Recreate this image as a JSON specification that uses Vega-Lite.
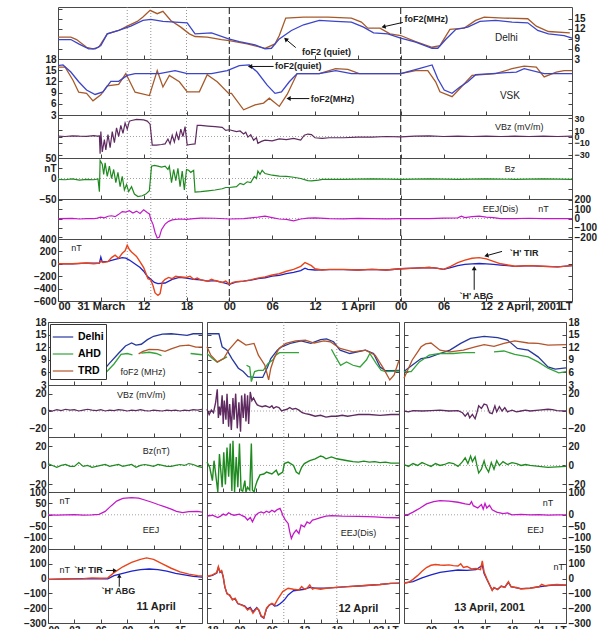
{
  "$schema": "https://vega.github.io/schema/vega-lite/v6.json",
  "padding": {"left": 12, "top": 5, "right": 4, "bottom": 2},
  "background": "white",
  "config": {
    "view": {"stroke": "#4a4a4a", "strokeWidth": 1},
    "axis": {"domain": false, "grid": false, "tickSize": -4, "tickColor": "#444", "labelPadding": 6, "labelFont": "Liberation Sans", "labelFontWeight": "bold", "labelFontSize": 10, "labelColor": "#222", "labelOverlap": false},
    "text": {"font": "Liberation Sans", "color": "#222"},
    "line": {"strokeWidth": 1.2}
  },
  "datasets": {
    "d_obs": [{"t":0,"v":9.5},{"t":1.8,"v":9.5},{"t":2.6,"v":8.8},{"t":4.0,"v":6.5},{"t":4.9,"v":6.0},{"t":5.7,"v":6.5},{"t":6.9,"v":10.5},{"t":8.5,"v":11.5},{"t":9.7,"v":12.8},{"t":11.1,"v":14.2},{"t":11.9,"v":15.5},{"t":12.9,"v":17.5},{"t":13.9,"v":16.5},{"t":14.7,"v":17.2},{"t":15.8,"v":14.5},{"t":17.2,"v":12.5},{"t":18.4,"v":10.5},{"t":19.2,"v":9.7},{"t":20.9,"v":9.5},{"t":22.9,"v":8.8},{"t":24,"v":8.5},{"t":26.5,"v":7.5},{"t":29,"v":6.2},{"t":30.4,"v":7.5},{"t":31,"v":10},{"t":31.9,"v":15.2},{"t":34.4,"v":15.5},{"t":37.8,"v":15.5},{"t":41.1,"v":15.2},{"t":42.5,"v":14},{"t":43.4,"v":12.2},{"t":45.1,"v":12.2},{"t":46.5,"v":10.5},{"t":48,"v":10},{"t":50.1,"v":8.2},{"t":52.4,"v":6.5},{"t":53.5,"v":7},{"t":54.9,"v":11.8},{"t":56.9,"v":12.2},{"t":58.5,"v":14.5},{"t":59.7,"v":15.5},{"t":62.5,"v":15.2},{"t":65.8,"v":15},{"t":67,"v":12.8},{"t":68.7,"v":11.2},{"t":71.7,"v":10.8}],
    "d_qt": [{"t":0,"v":8.8},{"t":1.8,"v":8.8},{"t":2.9,"v":7.5},{"t":4.3,"v":6.0},{"t":5.2,"v":6.0},{"t":6.0,"v":7.0},{"t":6.9,"v":10.5},{"t":8.5,"v":11.5},{"t":10.2,"v":12.8},{"t":11.9,"v":14.5},{"t":13.0,"v":14.8},{"t":14.7,"v":14.2},{"t":16.4,"v":14.0},{"t":18.1,"v":13.8},{"t":19.2,"v":10.5},{"t":21.5,"v":10.8},{"t":23.9,"v":9.0},{"t":25.4,"v":8.2},{"t":27.6,"v":7.2},{"t":29.0,"v":6.0},{"t":29.9,"v":6.2},{"t":31.0,"v":9.0},{"t":32.7,"v":11.5},{"t":34.4,"v":13.2},{"t":36.6,"v":14.5},{"t":38.9,"v":14.2},{"t":41.1,"v":14.0},{"t":42.8,"v":12.5},{"t":44.2,"v":10.8},{"t":46.2,"v":10.5},{"t":48,"v":9.2},{"t":50.1,"v":8.0},{"t":52.4,"v":6.2},{"t":53.2,"v":6.2},{"t":54.3,"v":8.8},{"t":55.7,"v":11.8},{"t":57.4,"v":12.5},{"t":59.1,"v":14.2},{"t":61.3,"v":14.5},{"t":63.6,"v":14.0},{"t":65.8,"v":13.8},{"t":67.2,"v":11.5},{"t":68.7,"v":10.5},{"t":70.9,"v":10.0},{"t":72,"v":9.2}],
    "v_obs": [{"t":0,"v":15.8},{"t":1.0,"v":15.8},{"t":2.1,"v":12.3},{"t":2.9,"v":9.1},{"t":4.0,"v":8.8},{"t":4.9,"v":6.8},{"t":6.0,"v":8.4},{"t":6.9,"v":10.8},{"t":8.5,"v":11.2},{"t":9.5,"v":14.1},{"t":10.8,"v":9.1},{"t":12.8,"v":8.2},{"t":13.9,"v":14.9},{"t":14.7,"v":10.5},{"t":15.6,"v":13.6},{"t":17.0,"v":11.9},{"t":18.1,"v":9.2},{"t":19.8,"v":9.2},{"t":20.9,"v":13.8},{"t":22.3,"v":11.9},{"t":23.9,"v":8.8},{"t":24.3,"v":8.8},{"t":26.0,"v":4.4},{"t":27.6,"v":5.7},{"t":28.8,"v":6.2},{"t":29.6,"v":7.5},{"t":31.0,"v":5.3},{"t":32.1,"v":8.5},{"t":33.5,"v":14.1},{"t":36.6,"v":14.1},{"t":38.9,"v":15.4},{"t":40.6,"v":15.2},{"t":42.2,"v":14.1},{"t":48,"v":14.1},{"t":50.1,"v":14.9},{"t":51.8,"v":14.9},{"t":52.9,"v":11.9},{"t":53.5,"v":9.2},{"t":55.2,"v":7.9},{"t":56.3,"v":10.1},{"t":58.0,"v":13.6},{"t":61.3,"v":14.1},{"t":63.6,"v":15.4},{"t":65.3,"v":16.1},{"t":67.0,"v":15.8},{"t":68.1,"v":13.2},{"t":69.8,"v":14.5},{"t":70.9,"v":14.9},{"t":72,"v":14.9}],
    "v_qt": [{"t":0,"v":16.2},{"t":0.7,"v":16.4},{"t":1.8,"v":14.5},{"t":2.9,"v":11.9},{"t":4.0,"v":9.7},{"t":5.2,"v":8.5},{"t":6.3,"v":9.2},{"t":7.4,"v":12.0},{"t":8.5,"v":12.0},{"t":9.7,"v":13.6},{"t":10.8,"v":14.1},{"t":14.2,"v":14.1},{"t":16.4,"v":14.9},{"t":18.1,"v":14.1},{"t":21.5,"v":14.1},{"t":23.7,"v":14.9},{"t":25.4,"v":16.2},{"t":26.8,"v":16.4},{"t":27.9,"v":14.5},{"t":29.3,"v":11.0},{"t":30.4,"v":8.8},{"t":31.3,"v":9.2},{"t":32.4,"v":11.9},{"t":33.5,"v":14.1},{"t":36.6,"v":14.1},{"t":38.9,"v":14.9},{"t":41.1,"v":14.1},{"t":48,"v":14.1},{"t":50.7,"v":15.5},{"t":52.4,"v":16.4},{"t":53.2,"v":12.7},{"t":54.1,"v":9.7},{"t":55.2,"v":8.8},{"t":56.3,"v":10.5},{"t":57.4,"v":11.9},{"t":58.5,"v":13.8},{"t":60.8,"v":14.1},{"t":64.2,"v":14.5},{"t":65.3,"v":15.4},{"t":68.1,"v":14.1},{"t":72,"v":14.1}],
    "t_vbz": [{"t":0,"v":0.5},{"t":1,"v":0},{"t":2,"v":1},{"t":3,"v":0.5},{"t":4,"v":0.3},{"t":5,"v":1.5},{"t":5.5,"v":0.5},{"t":5.8,"v":1},{"t":5.9,"v":-28},{"t":6.0,"v":8},{"t":6.2,"v":-25},{"t":6.5,"v":-5},{"t":6.7,"v":-22},{"t":7.0,"v":3},{"t":7.3,"v":-18},{"t":7.6,"v":8},{"t":7.9,"v":-10},{"t":8.2,"v":14},{"t":8.5,"v":0},{"t":8.8,"v":18},{"t":9.1,"v":5},{"t":9.4,"v":22},{"t":9.7,"v":12},{"t":10.0,"v":25},{"t":10.3,"v":26},{"t":11.0,"v":28},{"t":12.0,"v":27},{"t":12.5,"v":25},{"t":12.9,"v":20},{"t":13.2,"v":-14},{"t":13.8,"v":-14},{"t":14.5,"v":-13},{"t":15.0,"v":-12},{"t":15.4,"v":-4},{"t":15.7,"v":-12},{"t":16.0,"v":2},{"t":16.3,"v":-9},{"t":16.6,"v":6},{"t":16.9,"v":-6},{"t":17.2,"v":12},{"t":17.5,"v":0},{"t":17.8,"v":16},{"t":18.1,"v":-14},{"t":18.5,"v":-13},{"t":19.2,"v":-12},{"t":19.5,"v":18},{"t":20,"v":18},{"t":21,"v":17},{"t":22,"v":16},{"t":23,"v":15},{"t":23.5,"v":10},{"t":24,"v":11},{"t":25,"v":8},{"t":25.5,"v":9},{"t":26,"v":4},{"t":26.3,"v":7},{"t":26.6,"v":-1},{"t":27.0,"v":3},{"t":27.4,"v":-6},{"t":27.8,"v":-2},{"t":28.0,"v":-11},{"t":28.5,"v":-8},{"t":29,"v":-6},{"t":30,"v":-7},{"t":31,"v":-4},{"t":32,"v":-5},{"t":33,"v":-3},{"t":34,"v":-6},{"t":34.5,"v":2},{"t":35,"v":4},{"t":35.5,"v":3},{"t":36,"v":-2},{"t":37,"v":-3},{"t":38,"v":-2},{"t":40,"v":-2},{"t":42,"v":-1},{"t":44,"v":-1},{"t":46,"v":0},{"t":48,"v":-0.5},{"t":50,"v":0.5},{"t":52,"v":1},{"t":54,"v":0},{"t":56,"v":0.5},{"t":58,"v":0},{"t":60,"v":0.5},{"t":62,"v":0},{"t":64,"v":0.5},{"t":66,"v":0},{"t":68,"v":0.5},{"t":70,"v":0},{"t":72,"v":0.5}],
    "t_bz": [{"t":0,"v":-2},{"t":1,"v":-3},{"t":2,"v":-1},{"t":3,"v":-4},{"t":4,"v":-2},{"t":5,"v":-3},{"t":5.6,"v":-1},{"t":5.8,"v":-32},{"t":5.9,"v":44},{"t":6.2,"v":35},{"t":6.4,"v":10},{"t":6.6,"v":38},{"t":6.9,"v":5},{"t":7.2,"v":30},{"t":7.5,"v":0},{"t":7.8,"v":22},{"t":8.1,"v":-10},{"t":8.4,"v":15},{"t":8.7,"v":-20},{"t":9.0,"v":5},{"t":9.3,"v":-28},{"t":9.6,"v":-15},{"t":9.9,"v":-32},{"t":10.3,"v":-20},{"t":10.7,"v":-38},{"t":11.2,"v":-44},{"t":11.8,"v":-42},{"t":12.3,"v":-38},{"t":12.8,"v":-30},{"t":13.1,"v":30},{"t":13.5,"v":32},{"t":14,"v":30},{"t":14.5,"v":28},{"t":15,"v":30},{"t":15.4,"v":22},{"t":15.6,"v":30},{"t":15.9,"v":-10},{"t":16.2,"v":22},{"t":16.5,"v":-5},{"t":16.8,"v":25},{"t":17.1,"v":-20},{"t":17.4,"v":18},{"t":17.7,"v":-28},{"t":18.0,"v":22},{"t":18.3,"v":20},{"t":18.6,"v":15},{"t":19.0,"v":20},{"t":19.2,"v":-33},{"t":20,"v":-32},{"t":21,"v":-30},{"t":22,"v":-28},{"t":23,"v":-25},{"t":23.5,"v":-22},{"t":24,"v":-22},{"t":25,"v":-20},{"t":25.5,"v":-12},{"t":26,"v":-15},{"t":26.5,"v":-8},{"t":27,"v":-10},{"t":27.5,"v":5},{"t":27.8,"v":0},{"t":28,"v":18},{"t":28.3,"v":10},{"t":28.6,"v":20},{"t":29,"v":12},{"t":30,"v":8},{"t":31,"v":6},{"t":32,"v":5},{"t":33,"v":3},{"t":34,"v":0},{"t":35,"v":-5},{"t":35.5,"v":-6},{"t":36.5,"v":-4},{"t":37,"v":-2},{"t":40,"v":-2},{"t":44,"v":-1},{"t":48,"v":-2},{"t":52,"v":-1},{"t":56,"v":-2},{"t":60,"v":-1},{"t":64,"v":-2},{"t":68,"v":-1},{"t":72,"v":-2}],
    "t_eej": [{"t":0,"v":0},{"t":2,"v":2},{"t":3,"v":-5},{"t":4,"v":0},{"t":5,"v":-2},{"t":5.5,"v":5},{"t":6,"v":15},{"t":6.5,"v":8},{"t":7,"v":25},{"t":7.5,"v":30},{"t":8,"v":20},{"t":8.5,"v":45},{"t":9,"v":75},{"t":9.5,"v":70},{"t":10,"v":85},{"t":10.5,"v":60},{"t":11,"v":80},{"t":11.5,"v":55},{"t":12,"v":95},{"t":12.5,"v":65},{"t":12.8,"v":50},{"t":13,"v":-10},{"t":13.3,"v":-60},{"t":13.6,"v":-150},{"t":13.9,"v":-210},{"t":14.2,"v":-200},{"t":14.5,"v":-120},{"t":15,"v":-60},{"t":15.5,"v":-30},{"t":16,"v":-15},{"t":17,"v":-5},{"t":18,"v":-8},{"t":19,"v":0},{"t":20,"v":5},{"t":22,"v":3},{"t":24,"v":-5},{"t":26,"v":0},{"t":28,"v":15},{"t":29,"v":25},{"t":30,"v":10},{"t":31,"v":-5},{"t":32,"v":-10},{"t":33,"v":-25},{"t":34,"v":-5},{"t":35,"v":5},{"t":36,"v":8},{"t":38,"v":0},{"t":40,"v":-3},{"t":42,"v":2},{"t":44,"v":0},{"t":46,"v":-3},{"t":48,"v":0},{"t":50,"v":-2},{"t":52,"v":0},{"t":54,"v":4},{"t":56,"v":8},{"t":56.5,"v":25},{"t":57,"v":10},{"t":58,"v":20},{"t":59,"v":25},{"t":60,"v":15},{"t":61,"v":10},{"t":62,"v":0},{"t":64,"v":-2},{"t":66,"v":3},{"t":68,"v":0},{"t":70,"v":-2},{"t":72,"v":0}],
    "t_tir": [{"t":0,"v":0},{"t":2,"v":2},{"t":4,"v":12},{"t":5,"v":2},{"t":5.8,"v":10},{"t":6,"v":45},{"t":6.3,"v":20},{"t":7,"v":35},{"t":7.5,"v":100},{"t":8,"v":140},{"t":8.5,"v":90},{"t":9,"v":170},{"t":9.4,"v":210},{"t":9.7,"v":300},{"t":10,"v":230},{"t":10.3,"v":190},{"t":10.7,"v":150},{"t":11,"v":120},{"t":11.5,"v":30},{"t":12,"v":-60},{"t":12.3,"v":-150},{"t":12.6,"v":-240},{"t":13,"v":-260},{"t":13.3,"v":-350},{"t":13.6,"v":-470},{"t":14,"v":-510},{"t":14.3,"v":-480},{"t":14.6,"v":-300},{"t":15,"v":-250},{"t":15.5,"v":-220},{"t":16,"v":-240},{"t":16.5,"v":-200},{"t":17,"v":-210},{"t":18,"v":-220},{"t":18.5,"v":-200},{"t":19,"v":-250},{"t":19.5,"v":-230},{"t":20,"v":-260},{"t":21,"v":-280},{"t":21.5,"v":-250},{"t":22,"v":-270},{"t":23,"v":-300},{"t":23.5,"v":-280},{"t":24,"v":-330},{"t":24.5,"v":-300},{"t":25,"v":-290},{"t":26,"v":-280},{"t":27,"v":-260},{"t":28,"v":-230},{"t":29,"v":-210},{"t":30,"v":-180},{"t":31,"v":-160},{"t":32,"v":-120},{"t":33,"v":-90},{"t":34,"v":-40},{"t":34.6,"v":20},{"t":35,"v":0},{"t":35.5,"v":-30},{"t":36,"v":-80},{"t":37,"v":-100},{"t":38,"v":-90},{"t":40,"v":-90},{"t":42,"v":-100},{"t":44,"v":-90},{"t":46,"v":-100},{"t":48,"v":-80},{"t":50,"v":-70},{"t":52,"v":-60},{"t":53,"v":-70},{"t":54,"v":-90},{"t":55,"v":-40},{"t":56,"v":20},{"t":57,"v":60},{"t":58,"v":90},{"t":59,"v":100},{"t":60,"v":80},{"t":61,"v":40},{"t":62,"v":0},{"t":63,"v":-20},{"t":64,"v":-40},{"t":66,"v":-30},{"t":68,"v":-40},{"t":70,"v":-50},{"t":72,"v":-30}],
    "t_abg": [{"t":0,"v":0},{"t":2,"v":0},{"t":4,"v":10},{"t":5.8,"v":10},{"t":6,"v":110},{"t":6.2,"v":30},{"t":7,"v":40},{"t":8,"v":70},{"t":9,"v":100},{"t":9.5,"v":90},{"t":10,"v":60},{"t":10.5,"v":20},{"t":11,"v":-20},{"t":11.5,"v":-60},{"t":12,"v":-120},{"t":12.5,"v":-200},{"t":13,"v":-250},{"t":13.5,"v":-300},{"t":14,"v":-320},{"t":15,"v":-310},{"t":16,"v":-250},{"t":17,"v":-220},{"t":18,"v":-230},{"t":19,"v":-250},{"t":20,"v":-260},{"t":21,"v":-280},{"t":22,"v":-270},{"t":23,"v":-300},{"t":24,"v":-330},{"t":25,"v":-290},{"t":26,"v":-280},{"t":27,"v":-265},{"t":28,"v":-240},{"t":29,"v":-225},{"t":30,"v":-200},{"t":31,"v":-185},{"t":32,"v":-160},{"t":33,"v":-140},{"t":34,"v":-110},{"t":34.6,"v":-70},{"t":35,"v":-90},{"t":36,"v":-100},{"t":38,"v":-95},{"t":40,"v":-95},{"t":42,"v":-100},{"t":44,"v":-90},{"t":46,"v":-100},{"t":48,"v":-80},{"t":50,"v":-70},{"t":52,"v":-60},{"t":53,"v":-70},{"t":54,"v":-90},{"t":55,"v":-60},{"t":56,"v":-30},{"t":57,"v":-10},{"t":58,"v":0},{"t":59,"v":5},{"t":60,"v":0},{"t":61,"v":-10},{"t":62,"v":-20},{"t":63,"v":-30},{"t":64,"v":-40},{"t":66,"v":-30},{"t":68,"v":-40},{"t":70,"v":-50},{"t":72,"v":-30}],
    "bL_f": [{"t":0.5,"v":7.3,"s":"Delhi","g":"D"},{"t":1.5,"v":7.6,"s":"Delhi","g":"D"},{"t":2.2,"v":8.2,"s":"Delhi","g":"D"},{"t":2.8,"v":7.6,"s":"Delhi","g":"D"},{"t":4,"v":6.8,"s":"Delhi","g":"D"},{"t":5,"v":6.2,"s":"Delhi","g":"D"},{"t":5.8,"v":5.8,"s":"Delhi","g":"D"},{"t":6.3,"v":6.5,"s":"Delhi","g":"D"},{"t":7,"v":8.2,"s":"Delhi","g":"D"},{"t":8,"v":10.5,"s":"Delhi","g":"D"},{"t":8.8,"v":12.3,"s":"Delhi","g":"D"},{"t":9.5,"v":13,"s":"Delhi","g":"D"},{"t":10,"v":12.5,"s":"Delhi","g":"D"},{"t":10.6,"v":12.7,"s":"Delhi","g":"D"},{"t":11.3,"v":13.8,"s":"Delhi","g":"D"},{"t":12,"v":14.6,"s":"Delhi","g":"D"},{"t":13,"v":15.1,"s":"Delhi","g":"D"},{"t":14,"v":15.2,"s":"Delhi","g":"D"},{"t":15,"v":15,"s":"Delhi","g":"D"},{"t":15.8,"v":14.8,"s":"Delhi","g":"D"},{"t":16.5,"v":15.2,"s":"Delhi","g":"D"},{"t":17.5,"v":15.2,"s":"Delhi","g":"D"},
      {"t":0.5,"v":7.2,"s":"AHD","g":"A1"},{"t":1.5,"v":7.2,"s":"AHD","g":"A1"},{"t":2.6,"v":7.5,"s":"AHD","g":"A1"},{"t":3.5,"v":6.6,"s":"AHD","g":"A1"},{"t":4.5,"v":6.1,"s":"AHD","g":"A1"},{"t":5.5,"v":5.6,"s":"AHD","g":"A1"},{"t":6.1,"v":5.2,"s":"AHD","g":"A1"},{"t":6.7,"v":6.2,"s":"AHD","g":"A1"},{"t":7.5,"v":8,"s":"AHD","g":"A1"},{"t":8.3,"v":10.3,"s":"AHD","g":"A1"},{"t":9,"v":10.5,"s":"AHD","g":"A1"},{"t":9.6,"v":10.2,"s":"AHD","g":"A1"},
      {"t":10.6,"v":10.6,"s":"AHD","g":"A2"},{"t":11.5,"v":10.8,"s":"AHD","g":"A2"},{"t":12.3,"v":10.5,"s":"AHD","g":"A2"},{"t":12.9,"v":10,"s":"AHD","g":"A2"},
      {"t":16.2,"v":10.5,"s":"AHD","g":"A3"},{"t":17.5,"v":10.2,"s":"AHD","g":"A3"},
      {"t":10.3,"v":10.4,"s":"TRD","g":"T"},{"t":10.8,"v":11,"s":"TRD","g":"T"},{"t":11.5,"v":11.5,"s":"TRD","g":"T"},{"t":12.5,"v":11.4,"s":"TRD","g":"T"},{"t":13.3,"v":11,"s":"TRD","g":"T"},{"t":14,"v":11.6,"s":"TRD","g":"T"},{"t":15,"v":12.3,"s":"TRD","g":"T"},{"t":16,"v":12.5,"s":"TRD","g":"T"},{"t":16.8,"v":12,"s":"TRD","g":"T"},{"t":17.5,"v":12,"s":"TRD","g":"T"}],
    "bM_f": [{"t":0,"v":15.2,"s":"Delhi","g":"D"},{"t":2.2,"v":15.2,"s":"Delhi","g":"D"},{"t":2.8,"v":12.1,"s":"Delhi","g":"D"},{"t":3.7,"v":11.3,"s":"Delhi","g":"D"},{"t":4.6,"v":9.3,"s":"Delhi","g":"D"},{"t":5.8,"v":7,"s":"Delhi","g":"D"},{"t":6.7,"v":6.2,"s":"Delhi","g":"D"},{"t":7.6,"v":5,"s":"Delhi","g":"D"},{"t":8.8,"v":4.8,"s":"Delhi","g":"D"},{"t":10.3,"v":4.8,"s":"Delhi","g":"D"},{"t":11.2,"v":7.3,"s":"Delhi","g":"D"},{"t":11.8,"v":9.3,"s":"Delhi","g":"D"},{"t":13,"v":11.3,"s":"Delhi","g":"D"},{"t":13.8,"v":12.1,"s":"Delhi","g":"D"},{"t":15.6,"v":13,"s":"Delhi","g":"D"},{"t":17.4,"v":13.5,"s":"Delhi","g":"D"},{"t":19.2,"v":12.9,"s":"Delhi","g":"D"},{"t":21,"v":13.8,"s":"Delhi","g":"D"},{"t":22.1,"v":14,"s":"Delhi","g":"D"},{"t":23.4,"v":13.3,"s":"Delhi","g":"D"},{"t":24.6,"v":11.3,"s":"Delhi","g":"D"},{"t":26.4,"v":10.5,"s":"Delhi","g":"D"},{"t":29.3,"v":11.3,"s":"Delhi","g":"D"},{"t":30.8,"v":10.5,"s":"Delhi","g":"D"},{"t":32,"v":7.3,"s":"Delhi","g":"D"},{"t":32.9,"v":6.5,"s":"Delhi","g":"D"},{"t":34.1,"v":6.4,"s":"Delhi","g":"D"},{"t":35.5,"v":6.5,"s":"Delhi","g":"D"},
      {"t":0,"v":10.5,"s":"AHD","g":"A1"},{"t":1,"v":9.3,"s":"AHD","g":"A1"},{"t":1.9,"v":8.4,"s":"AHD","g":"A1"},{"t":2.8,"v":9.1,"s":"AHD","g":"A1"},{"t":3.7,"v":9.7,"s":"AHD","g":"A1"},
      {"t":7.3,"v":7.7,"s":"AHD","g":"A2"},{"t":7.9,"v":7.3,"s":"AHD","g":"A2"},{"t":8.2,"v":3.8,"s":"AHD","g":"A2"},{"t":8.8,"v":6.2,"s":"AHD","g":"A2"},{"t":9.5,"v":6.5,"s":"AHD","g":"A2"},{"t":10.4,"v":6.5,"s":"AHD","g":"A2"},{"t":11.3,"v":8.1,"s":"AHD","g":"A2"},{"t":12.2,"v":9,"s":"AHD","g":"A2"},{"t":12.7,"v":10.1,"s":"AHD","g":"A2"},{"t":13.4,"v":10.7,"s":"AHD","g":"A2"},{"t":15,"v":10.7,"s":"AHD","g":"A2"},{"t":17,"v":10.7,"s":"AHD","g":"A2"},
      {"t":23,"v":11.5,"s":"AHD","g":"A3"},{"t":23.6,"v":10.1,"s":"AHD","g":"A3"},{"t":24.7,"v":7.7,"s":"AHD","g":"A3"},{"t":25.8,"v":8.5,"s":"AHD","g":"A3"},{"t":27,"v":7.7,"s":"AHD","g":"A3"},{"t":28.3,"v":7.3,"s":"AHD","g":"A3"},{"t":29.5,"v":9,"s":"AHD","g":"A3"},{"t":30.1,"v":10.5,"s":"AHD","g":"A3"},{"t":31.3,"v":8.1,"s":"AHD","g":"A3"},{"t":32.2,"v":6.5,"s":"AHD","g":"A3"},{"t":33,"v":6.2,"s":"AHD","g":"A3"},{"t":35.5,"v":6.3,"s":"AHD","g":"A3"},
      {"t":0,"v":12.1,"s":"TRD","g":"T"},{"t":0.7,"v":10.1,"s":"TRD","g":"T"},{"t":1.9,"v":8.5,"s":"TRD","g":"T"},{"t":3.1,"v":9.3,"s":"TRD","g":"T"},{"t":4,"v":11.3,"s":"TRD","g":"T"},{"t":5.7,"v":13.8,"s":"TRD","g":"T"},{"t":7.2,"v":12.5,"s":"TRD","g":"T"},{"t":8.7,"v":12.9,"s":"TRD","g":"T"},{"t":9.5,"v":10.1,"s":"TRD","g":"T"},{"t":10.7,"v":7.7,"s":"TRD","g":"T"},{"t":11.4,"v":4.2,"s":"TRD","g":"T"},{"t":11.8,"v":7,"s":"TRD","g":"T"},{"t":12.4,"v":9.3,"s":"TRD","g":"T"},{"t":13.3,"v":11.7,"s":"TRD","g":"T"},{"t":14.6,"v":12.9,"s":"TRD","g":"T"},{"t":16.4,"v":13.5,"s":"TRD","g":"T"},{"t":18.2,"v":13.7,"s":"TRD","g":"T"},{"t":19.8,"v":13,"s":"TRD","g":"T"},{"t":21.6,"v":13.5,"s":"TRD","g":"T"},{"t":22.8,"v":13.3,"s":"TRD","g":"T"},{"t":24.6,"v":11.7,"s":"TRD","g":"T"},{"t":27,"v":10.9,"s":"TRD","g":"T"},{"t":29.3,"v":11.3,"s":"TRD","g":"T"},{"t":31.1,"v":10.1,"s":"TRD","g":"T"},{"t":32.6,"v":7,"s":"TRD","g":"T"},{"t":33.8,"v":4.2,"s":"TRD","g":"T"},{"t":34.6,"v":5.4,"s":"TRD","g":"T"},{"t":35.5,"v":8.9,"s":"TRD","g":"T"}],
    "bR_f": [{"t":6,"v":6.2,"s":"Delhi","g":"D"},{"t":6.9,"v":7.7,"s":"Delhi","g":"D"},{"t":7.9,"v":9.3,"s":"Delhi","g":"D"},{"t":8.8,"v":9.6,"s":"Delhi","g":"D"},{"t":10,"v":10.5,"s":"Delhi","g":"D"},{"t":11.1,"v":11.3,"s":"Delhi","g":"D"},{"t":12.3,"v":12.9,"s":"Delhi","g":"D"},{"t":13.4,"v":14.1,"s":"Delhi","g":"D"},{"t":14.9,"v":14.6,"s":"Delhi","g":"D"},{"t":16.4,"v":14.3,"s":"Delhi","g":"D"},{"t":17.5,"v":13.7,"s":"Delhi","g":"D"},{"t":18.6,"v":11.7,"s":"Delhi","g":"D"},{"t":19.8,"v":11.3,"s":"Delhi","g":"D"},{"t":20.9,"v":9.7,"s":"Delhi","g":"D"},{"t":22,"v":7.3,"s":"Delhi","g":"D"},{"t":22.8,"v":6.8,"s":"Delhi","g":"D"},{"t":24,"v":7.1,"s":"Delhi","g":"D"},
      {"t":6,"v":6.2,"s":"AHD","g":"A1"},{"t":6.8,"v":6.2,"s":"AHD","g":"A1"},{"t":7.7,"v":8.5,"s":"AHD","g":"A1"},{"t":8.8,"v":10.1,"s":"AHD","g":"A1"},{"t":10,"v":10.5,"s":"AHD","g":"A1"},{"t":11.5,"v":10.5,"s":"AHD","g":"A1"},{"t":12.6,"v":10.7,"s":"AHD","g":"A1"},{"t":13.9,"v":10.7,"s":"AHD","g":"A1"},
      {"t":16,"v":10.9,"s":"AHD","g":"A2"},{"t":17.1,"v":11.1,"s":"AHD","g":"A2"},{"t":18.3,"v":10.3,"s":"AHD","g":"A2"},{"t":19.8,"v":9.7,"s":"AHD","g":"A2"},{"t":20.9,"v":8.5,"s":"AHD","g":"A2"},{"t":22,"v":7,"s":"AHD","g":"A2"},{"t":23.2,"v":5.9,"s":"AHD","g":"A2"},{"t":24,"v":6.2,"s":"AHD","g":"A2"},
      {"t":6,"v":4.6,"s":"TRD","g":"T"},{"t":6.9,"v":8.9,"s":"TRD","g":"T"},{"t":7.9,"v":12.1,"s":"TRD","g":"T"},{"t":8.4,"v":12.8,"s":"TRD","g":"T"},{"t":9,"v":13,"s":"TRD","g":"T"},{"t":10,"v":11.3,"s":"TRD","g":"T"},{"t":11.1,"v":10.9,"s":"TRD","g":"T"},{"t":12.6,"v":11.3,"s":"TRD","g":"T"},{"t":13.9,"v":12.1,"s":"TRD","g":"T"},{"t":14.9,"v":12.6,"s":"TRD","g":"T"},{"t":16,"v":12.2,"s":"TRD","g":"T"},{"t":17.1,"v":12.9,"s":"TRD","g":"T"},{"t":18.3,"v":13.5,"s":"TRD","g":"T"},{"t":19.8,"v":13,"s":"TRD","g":"T"},{"t":20.9,"v":12.9,"s":"TRD","g":"T"},{"t":22,"v":12.5,"s":"TRD","g":"T"},{"t":24,"v":12.6,"s":"TRD","g":"T"}],
    "bL_vbz": [{"t":0,"v":1},{"t":0.5,"v":0},{"t":1,"v":1.5},{"t":1.5,"v":0.5},{"t":2,"v":2},{"t":2.5,"v":1},{"t":3,"v":1.5},{"t":3.5,"v":0},{"t":4,"v":1},{"t":4.5,"v":2},{"t":5,"v":1},{"t":5.5,"v":0.5},{"t":6,"v":1.5},{"t":6.5,"v":0},{"t":7,"v":1},{"t":7.5,"v":0.5},{"t":8,"v":1.5},{"t":8.5,"v":1},{"t":9,"v":0},{"t":9.5,"v":1},{"t":10,"v":0.5},{"t":10.5,"v":1.5},{"t":11,"v":0.5},{"t":11.5,"v":0},{"t":12,"v":1},{"t":12.5,"v":0.5},{"t":13,"v":0},{"t":13.5,"v":1},{"t":14,"v":0.5},{"t":14.5,"v":1},{"t":15,"v":0},{"t":15.5,"v":1},{"t":16,"v":0.5},{"t":16.5,"v":1.5},{"t":17,"v":1},{"t":17.5,"v":2}],
    "bM_vbz": [{"t":0,"v":2},{"t":0.4,"v":-4},{"t":0.8,"v":1},{"t":1.2,"v":-2},{"t":1.6,"v":10},{"t":1.9,"v":25},{"t":2.1,"v":-8},{"t":2.3,"v":5},{"t":2.5,"v":-5},{"t":2.8,"v":18},{"t":3.0,"v":-15},{"t":3.2,"v":12},{"t":3.5,"v":-10},{"t":3.7,"v":20},{"t":4.0,"v":-18},{"t":4.2,"v":8},{"t":4.5,"v":-22},{"t":4.8,"v":15},{"t":5.0,"v":-10},{"t":5.3,"v":20},{"t":5.6,"v":-20},{"t":5.9,"v":10},{"t":6.2,"v":-24},{"t":6.4,"v":18},{"t":6.7,"v":-8},{"t":7.0,"v":20},{"t":7.2,"v":-12},{"t":7.5,"v":18},{"t":7.7,"v":-15},{"t":8.0,"v":22},{"t":8.3,"v":12},{"t":8.6,"v":15},{"t":9.0,"v":10},{"t":9.3,"v":7},{"t":9.7,"v":6},{"t":10.2,"v":5},{"t":10.8,"v":6},{"t":11.2,"v":5},{"t":11.6,"v":4},{"t":12.0,"v":6},{"t":12.3,"v":3},{"t":12.8,"v":5},{"t":13.3,"v":4},{"t":13.8,"v":0},{"t":14.2,"v":1},{"t":14.8,"v":2},{"t":15.3,"v":4},{"t":15.8,"v":2},{"t":16.4,"v":3},{"t":17.0,"v":1},{"t":17.6,"v":-2},{"t":18.2,"v":-3},{"t":19,"v":-4},{"t":20,"v":-6},{"t":21,"v":-5},{"t":22,"v":-7},{"t":23,"v":-6},{"t":24,"v":-6},{"t":25,"v":-5},{"t":26,"v":-6},{"t":27,"v":-5},{"t":28,"v":-4},{"t":30,"v":-4},{"t":32,"v":-5},{"t":34,"v":-4},{"t":35.5,"v":-4}],
    "bR_vbz": [{"t":6,"v":0},{"t":6.5,"v":-1},{"t":7,"v":0.5},{"t":8,"v":0},{"t":9,"v":0.5},{"t":10,"v":1},{"t":11,"v":0},{"t":12,"v":0.5},{"t":12.5,"v":-2},{"t":12.8,"v":-6},{"t":13.1,"v":-2},{"t":13.3,"v":-8},{"t":13.6,"v":-4},{"t":13.9,"v":-9},{"t":14.1,"v":-2},{"t":14.3,"v":6},{"t":14.6,"v":3},{"t":14.9,"v":8},{"t":15.2,"v":7},{"t":15.5,"v":-2},{"t":15.8,"v":-3},{"t":16.1,"v":6},{"t":16.3,"v":-1},{"t":16.6,"v":5},{"t":16.9,"v":0},{"t":17.2,"v":4},{"t":17.5,"v":-1},{"t":18,"v":1},{"t":18.5,"v":-1},{"t":19,"v":0},{"t":19.5,"v":1},{"t":20,"v":0},{"t":21,"v":1},{"t":22,"v":2},{"t":22.5,"v":1.5},{"t":23,"v":0.5},{"t":24,"v":0}],
    "bL_bz": [{"t":0,"v":2},{"t":0.5,"v":0},{"t":1,"v":-2},{"t":1.5,"v":0},{"t":2,"v":1},{"t":2.5,"v":-1},{"t":3,"v":-1},{"t":3.5,"v":3},{"t":4,"v":-1},{"t":4.5,"v":0},{"t":5,"v":-2},{"t":5.5,"v":-1},{"t":6,"v":0},{"t":6.5,"v":1},{"t":7,"v":-1},{"t":7.5,"v":0},{"t":8,"v":1},{"t":8.5,"v":-1},{"t":9,"v":0},{"t":9.5,"v":1},{"t":10,"v":-2},{"t":10.5,"v":0},{"t":11,"v":1},{"t":11.5,"v":0},{"t":12,"v":-1},{"t":12.5,"v":1},{"t":13,"v":0},{"t":13.5,"v":-1},{"t":14,"v":-1},{"t":14.5,"v":0},{"t":15,"v":1},{"t":15.5,"v":0},{"t":16,"v":2},{"t":16.5,"v":1},{"t":17,"v":-1},{"t":17.5,"v":-2}],
    "bM_bz": [{"t":0,"v":3.5},{"t":0.5,"v":-2},{"t":1,"v":-16},{"t":1.3,"v":5},{"t":1.6,"v":-9},{"t":2,"v":-28},{"t":2.3,"v":12},{"t":2.8,"v":-23},{"t":3.1,"v":14},{"t":3.4,"v":-20},{"t":3.7,"v":19},{"t":4.0,"v":-12},{"t":4.3,"v":23},{"t":4.6,"v":-27},{"t":4.8,"v":26},{"t":5.1,"v":-28},{"t":5.4,"v":9},{"t":5.7,"v":-23},{"t":6,"v":23},{"t":6.3,"v":-26},{"t":6.6,"v":-27},{"t":7,"v":-16},{"t":7.2,"v":-28},{"t":7.5,"v":-23},{"t":7.9,"v":-26},{"t":8.2,"v":23},{"t":8.4,"v":-26},{"t":8.7,"v":-28},{"t":9,"v":-21},{"t":9.3,"v":-16},{"t":9.8,"v":-10},{"t":10.5,"v":-9},{"t":11,"v":-7},{"t":12,"v":-9},{"t":12.8,"v":-5},{"t":13.2,"v":-10},{"t":14,"v":-7},{"t":14.3,"v":2},{"t":15,"v":3.5},{"t":16,"v":0},{"t":16.5,"v":-7},{"t":17,"v":-9},{"t":17.5,"v":-2},{"t":18,"v":2},{"t":19,"v":5},{"t":20,"v":7},{"t":21,"v":10},{"t":21.5,"v":9},{"t":22,"v":7},{"t":23,"v":9},{"t":24,"v":7},{"t":25,"v":6},{"t":26,"v":5},{"t":27,"v":4},{"t":28,"v":3.5},{"t":29,"v":4.5},{"t":30,"v":3.5},{"t":31,"v":4},{"t":32,"v":3},{"t":33,"v":3.5},{"t":34,"v":2.5},{"t":35.5,"v":2.5}],
    "bR_bz": [{"t":6,"v":1},{"t":6.5,"v":-1},{"t":7,"v":2},{"t":7.5,"v":0},{"t":8,"v":3},{"t":8.5,"v":1},{"t":9,"v":-1},{"t":9.5,"v":2},{"t":10,"v":0},{"t":10.5,"v":1},{"t":11,"v":3},{"t":11.5,"v":2},{"t":12,"v":-1},{"t":12.5,"v":4},{"t":12.8,"v":8},{"t":13.1,"v":2},{"t":13.4,"v":10},{"t":13.6,"v":4},{"t":13.9,"v":9},{"t":14.1,"v":0},{"t":14.3,"v":-8},{"t":14.6,"v":-4},{"t":14.9,"v":5},{"t":15.1,"v":-2},{"t":15.4,"v":-7},{"t":15.7,"v":3},{"t":16,"v":-4},{"t":16.3,"v":5},{"t":16.6,"v":0},{"t":17,"v":4},{"t":17.5,"v":1},{"t":18,"v":3},{"t":18.5,"v":2},{"t":19,"v":0},{"t":19.5,"v":1},{"t":20,"v":0},{"t":21,"v":-1},{"t":22,"v":-2},{"t":23,"v":-1.5},{"t":24,"v":-1}],
    "bL_eej": [{"t":0,"v":0},{"t":1,"v":-1},{"t":2,"v":0},{"t":3,"v":1},{"t":4,"v":-1},{"t":5,"v":0},{"t":5.8,"v":2},{"t":6.5,"v":15},{"t":7.2,"v":40},{"t":7.8,"v":60},{"t":8.5,"v":72},{"t":9.5,"v":75},{"t":10.3,"v":73},{"t":11,"v":65},{"t":11.8,"v":55},{"t":12.5,"v":45},{"t":13.3,"v":35},{"t":14,"v":25},{"t":14.6,"v":15},{"t":15.3,"v":10},{"t":16,"v":14},{"t":17,"v":15},{"t":17.5,"v":12}],
    "bM_eej": [{"t":0,"v":-6},{"t":1,"v":-2},{"t":2,"v":-12},{"t":2.5,"v":-6},{"t":3,"v":3},{"t":3.5,"v":-2},{"t":4,"v":9},{"t":4.5,"v":2},{"t":5,"v":-2},{"t":6,"v":3},{"t":6.5,"v":-4},{"t":7,"v":-9},{"t":7.5,"v":-23},{"t":8,"v":-12},{"t":8.4,"v":-31},{"t":9,"v":-2},{"t":9.5,"v":8},{"t":10,"v":13},{"t":10.5,"v":8},{"t":11,"v":16},{"t":11.5,"v":10},{"t":12,"v":20},{"t":12.5,"v":13},{"t":13,"v":23},{"t":13.5,"v":28},{"t":13.8,"v":12},{"t":14,"v":-2},{"t":14.5,"v":-23},{"t":15,"v":-38},{"t":15.3,"v":-75},{"t":15.6,"v":-104},{"t":16,"v":-82},{"t":16.5,"v":-67},{"t":17,"v":-82},{"t":17.4,"v":-45},{"t":18,"v":-53},{"t":18.5,"v":-31},{"t":19,"v":-38},{"t":19.5,"v":-23},{"t":20,"v":-20},{"t":21,"v":-12},{"t":22,"v":-6},{"t":23,"v":-4},{"t":25,"v":-6},{"t":28,"v":-7},{"t":31,"v":-9},{"t":33,"v":-12},{"t":35.5,"v":-13}],
    "bR_eej": [{"t":6,"v":0},{"t":6.5,"v":2},{"t":7,"v":12},{"t":7.8,"v":30},{"t":8.5,"v":48},{"t":9.3,"v":58},{"t":10,"v":62},{"t":11,"v":60},{"t":12,"v":55},{"t":12.8,"v":48},{"t":13.3,"v":45},{"t":13.5,"v":58},{"t":13.7,"v":40},{"t":14.2,"v":30},{"t":14.6,"v":45},{"t":14.8,"v":25},{"t":15,"v":50},{"t":15.2,"v":30},{"t":15.5,"v":42},{"t":15.8,"v":22},{"t":16.3,"v":12},{"t":17,"v":5},{"t":17.5,"v":8},{"t":18,"v":0},{"t":19,"v":2},{"t":20,"v":0},{"t":21,"v":1},{"t":22,"v":-1},{"t":23,"v":0},{"t":24,"v":0}],
    "bL_tir": [{"t":0,"v":-5},{"t":2,"v":-3},{"t":4,"v":0},{"t":5,"v":5},{"t":6,"v":2},{"t":6.8,"v":5},{"t":7.5,"v":40},{"t":8.5,"v":80},{"t":9.5,"v":110},{"t":10.5,"v":130},{"t":11.2,"v":140},{"t":12,"v":130},{"t":13,"v":100},{"t":14,"v":70},{"t":15,"v":45},{"t":16,"v":30},{"t":17,"v":20},{"t":17.5,"v":18}],
    "bL_abg": [{"t":0,"v":-5},{"t":4,"v":0},{"t":6.8,"v":-2},{"t":7.5,"v":20},{"t":8.5,"v":35},{"t":9.5,"v":50},{"t":10.5,"v":60},{"t":11.5,"v":65},{"t":12.5,"v":60},{"t":13.5,"v":50},{"t":14.5,"v":35},{"t":15.5,"v":25},{"t":16.5,"v":15},{"t":17.5,"v":10}],
    "bM_tir": [{"t":0,"v":14},{"t":1,"v":25},{"t":1.8,"v":40},{"t":2.1,"v":81},{"t":2.4,"v":45},{"t":2.7,"v":55},{"t":3,"v":14},{"t":3.3,"v":-54},{"t":3.7,"v":-104},{"t":4.2,"v":-110},{"t":4.7,"v":-144},{"t":5.2,"v":-133},{"t":5.7,"v":-167},{"t":6.3,"v":-178},{"t":7,"v":-189},{"t":7.5,"v":-212},{"t":8,"v":-200},{"t":8.5,"v":-234},{"t":9.2,"v":-200},{"t":9.6,"v":-212},{"t":10,"v":-250},{"t":10.5,"v":-265},{"t":11,"v":-200},{"t":11.5,"v":-178},{"t":12,"v":-167},{"t":12.5,"v":-178},{"t":13,"v":-144},{"t":14,"v":-88},{"t":15,"v":-65},{"t":16,"v":-72},{"t":17,"v":-77},{"t":17.5,"v":-54},{"t":18,"v":-72},{"t":18.5,"v":-65},{"t":19,"v":-43},{"t":19.5,"v":-72},{"t":20,"v":-65},{"t":21,"v":-72},{"t":22,"v":-65},{"t":24,"v":-59},{"t":26,"v":-54},{"t":28,"v":-50},{"t":30,"v":-45},{"t":32,"v":-40},{"t":34,"v":-32},{"t":35.5,"v":-32}],
    "bM_abg": [{"t":0,"v":14},{"t":1,"v":22},{"t":1.8,"v":38},{"t":2.1,"v":75},{"t":2.4,"v":42},{"t":2.7,"v":50},{"t":3,"v":10},{"t":3.3,"v":-58},{"t":3.7,"v":-100},{"t":4.2,"v":-115},{"t":4.7,"v":-140},{"t":5.2,"v":-138},{"t":5.7,"v":-170},{"t":6.3,"v":-175},{"t":7,"v":-185},{"t":7.5,"v":-205},{"t":8,"v":-195},{"t":8.5,"v":-225},{"t":9.2,"v":-195},{"t":9.6,"v":-215},{"t":10,"v":-255},{"t":10.5,"v":-268},{"t":11,"v":-205},{"t":11.5,"v":-180},{"t":12,"v":-170},{"t":12.5,"v":-185},{"t":13,"v":-182},{"t":13.5,"v":-170},{"t":14,"v":-155},{"t":14.5,"v":-135},{"t":15,"v":-110},{"t":15.5,"v":-95},{"t":16,"v":-82},{"t":17,"v":-77},{"t":18,"v":-72},{"t":19,"v":-60},{"t":20,"v":-65},{"t":22,"v":-65},{"t":24,"v":-59},{"t":26,"v":-54},{"t":28,"v":-50},{"t":30,"v":-45},{"t":32,"v":-40},{"t":34,"v":-32},{"t":35.5,"v":-30}],
    "bR_tir": [{"t":6,"v":-30},{"t":6.5,"v":-25},{"t":7,"v":-5},{"t":7.5,"v":20},{"t":8,"v":50},{"t":8.5,"v":75},{"t":9,"v":90},{"t":9.5,"v":95},{"t":10,"v":92},{"t":10.5,"v":90},{"t":11,"v":93},{"t":11.5,"v":88},{"t":12,"v":85},{"t":12.3,"v":100},{"t":12.6,"v":75},{"t":13,"v":82},{"t":13.5,"v":65},{"t":14,"v":68},{"t":14.5,"v":60},{"t":14.7,"v":120},{"t":14.9,"v":45},{"t":15.2,"v":0},{"t":15.5,"v":-40},{"t":15.8,"v":-80},{"t":16,"v":-60},{"t":16.4,"v":-75},{"t":16.8,"v":-50},{"t":17.2,"v":-60},{"t":17.6,"v":-20},{"t":17.9,"v":-55},{"t":18.5,"v":-60},{"t":19,"v":-70},{"t":20,"v":-65},{"t":21,"v":-55},{"t":21.3,"v":-38},{"t":21.7,"v":-50},{"t":22,"v":-45},{"t":23,"v":-40},{"t":24,"v":-45}],
    "bR_abg": [{"t":6,"v":-30},{"t":7,"v":-20},{"t":8,"v":5},{"t":9,"v":25},{"t":10,"v":42},{"t":11,"v":50},{"t":12,"v":58},{"t":13,"v":55},{"t":14,"v":60},{"t":14.7,"v":90},{"t":14.9,"v":35},{"t":15.2,"v":-5},{"t":15.5,"v":-42},{"t":15.8,"v":-78},{"t":16,"v":-62},{"t":16.4,"v":-72},{"t":16.8,"v":-52},{"t":17.2,"v":-58},{"t":17.6,"v":-25},{"t":17.9,"v":-55},{"t":18.5,"v":-62},{"t":19,"v":-68},{"t":20,"v":-65},{"t":21,"v":-55},{"t":22,"v":-47},{"t":23,"v":-42},{"t":24,"v":-45}]
  },
  "spacing": 4,
  "resolve": {"scale": {"color": "independent"}, "legend": {"color": "independent"}},
  "vconcat": [
    {
      "spacing": 0,
      "bounds": "flush",
      "hconcat": [
        {"width": 10, "height": 10, "view": {"stroke": null}, "data": {"values": [{}]}, "mark": {"type": "point", "opacity": 0}, "encoding": {}},
        {
          "spacing": 0,
          "bounds": "flush",
          "vconcat": [
            {
              "width": 514, "height": 52,
              "resolve": {"axis": {"y": "independent"}},
              "layer": [
                {"data": {"values": [{"t": 9.7}, {"t": 13}, {"t": 18}]}, "mark": {"type": "rule", "color": "#888", "strokeDash": [1, 2], "strokeWidth": 0.9}, "encoding": {"x": {"field": "t", "type": "quantitative", "title": null}}},
                {"data": {"values": [{"t": 24}, {"t": 48}]}, "mark": {"type": "rule", "color": "#3a3a3a", "strokeDash": [7, 3], "strokeWidth": 1.2}, "encoding": {"x": {"field": "t", "type": "quantitative", "title": null}}},
                {"data": {"name": "d_obs"}, "mark": {"type": "line", "color": "#a65a2a", "strokeWidth": 1.3},
                 "encoding": {"x": {"field": "t", "type": "quantitative", "title": null, "scale": {"domain": [0, 72], "nice": false, "zero": false}, "axis": {"values": [0,6,12,18,24,30,36,42,48,54,60,66,72], "tickCount": 40, "labels": false}},
                              "y": {"field": "v", "type": "quantitative", "title": null, "scale": {"domain": [3, 18.5], "nice": false, "zero": false}, "axis": {"orient": "left", "values": [3,6,9,12,15,18], "labels": false, "minExtent": 45, "maxExtent": 45}}}},
                {"data": {"name": "d_qt"}, "mark": {"type": "line", "color": "#3c45c8", "strokeWidth": 1.3},
                 "encoding": {"x": {"field": "t", "type": "quantitative", "title": null}, "y": {"field": "v", "type": "quantitative", "title": null, "axis": {"orient": "right", "values": [3,6,9,12,15], "maxExtent": 40}}}},
                {"data": {"values": [{"t": 51.6, "v": 14.9, "label": "foF2(MHz)"}, {"t": 37.6, "v": 5.0, "label": "foF2 (quiet)"}]}, "mark": {"type": "text", "fontSize": 9, "fontWeight": "bold"},
                 "encoding": {"x": {"field": "t", "type": "quantitative", "title": null}, "y": {"field": "v", "type": "quantitative", "title": null, "axis": null}, "text": {"field": "label"}}},
                {"data": {"values": [{"t": 62.8, "v": 9.3, "label": "Delhi"}]}, "mark": {"type": "text", "fontSize": 10},
                 "encoding": {"x": {"field": "t", "type": "quantitative", "title": null}, "y": {"field": "v", "type": "quantitative", "title": null, "axis": null}, "text": {"field": "label"}}},
                {"data": {"values": [{"t": 48.3, "v": 13.9, "t2": 45.6, "v2": 12.6}, {"t": 33.3, "v": 6.4, "t2": 31.9, "v2": 8.9}]}, "mark": {"type": "rule", "color": "#111", "strokeWidth": 1},
                 "encoding": {"x": {"field": "t", "type": "quantitative", "title": null}, "y": {"field": "v", "type": "quantitative", "title": null, "axis": null}, "x2": {"field": "t2"}, "y2": {"field": "v2"}}},
                {"data": {"values": [{"t": 45.6, "v": 12.6}]}, "mark": {"type": "point", "shape": "triangle-up", "filled": true, "color": "#111", "opacity": 1, "size": 24, "angle": 256},
                 "encoding": {"x": {"field": "t", "type": "quantitative", "title": null}, "y": {"field": "v", "type": "quantitative", "title": null, "axis": null}}},
                {"data": {"values": [{"t": 31.9, "v": 8.9}]}, "mark": {"type": "point", "shape": "triangle-up", "filled": true, "color": "#111", "opacity": 1, "size": 24, "angle": 312},
                 "encoding": {"x": {"field": "t", "type": "quantitative", "title": null}, "y": {"field": "v", "type": "quantitative", "title": null, "axis": null}}}
              ]
            },
            {
              "width": 514, "height": 56,
              "resolve": {"axis": {"y": "independent"}},
              "layer": [
                {"data": {"values": [{"t": 9.7}, {"t": 13}, {"t": 18}]}, "mark": {"type": "rule", "color": "#888", "strokeDash": [1, 2], "strokeWidth": 0.9}, "encoding": {"x": {"field": "t", "type": "quantitative", "title": null}}},
                {"data": {"values": [{"t": 24}, {"t": 48}]}, "mark": {"type": "rule", "color": "#3a3a3a", "strokeDash": [7, 3], "strokeWidth": 1.2}, "encoding": {"x": {"field": "t", "type": "quantitative", "title": null}}},
                {"data": {"name": "v_obs"}, "mark": {"type": "line", "color": "#a65a2a", "strokeWidth": 1.3},
                 "encoding": {"x": {"field": "t", "type": "quantitative", "title": null, "scale": {"domain": [0, 72], "nice": false, "zero": false}, "axis": {"values": [0,6,12,18,24,30,36,42,48,54,60,66,72], "tickCount": 40, "labels": false}},
                              "y": {"field": "v", "type": "quantitative", "title": null, "scale": {"domain": [3, 18], "nice": false, "zero": false}, "axis": {"orient": "left", "values": [3,6,9,12,15,18], "minExtent": 45, "maxExtent": 45}}}},
                {"data": {"name": "v_qt"}, "mark": {"type": "line", "color": "#3c45c8", "strokeWidth": 1.3},
                 "encoding": {"x": {"field": "t", "type": "quantitative", "title": null}, "y": {"field": "v", "type": "quantitative", "title": null, "axis": {"orient": "right", "values": [3,6,9,12,15,18], "labels": false, "maxExtent": 40}}}},
                {"data": {"values": [{"t": 30.4, "v": 16.0, "label": "foF2(quiet)"}, {"t": 35.4, "v": 7.4, "label": "foF2(MHz)"}]}, "mark": {"type": "text", "fontSize": 9, "fontWeight": "bold", "align": "left"},
                 "encoding": {"x": {"field": "t", "type": "quantitative", "title": null}, "y": {"field": "v", "type": "quantitative", "title": null, "axis": null}, "text": {"field": "label"}}},
                {"data": {"values": [{"t": 63.3, "v": 8.2, "label": "VSK"}]}, "mark": {"type": "text", "fontSize": 10},
                 "encoding": {"x": {"field": "t", "type": "quantitative", "title": null}, "y": {"field": "v", "type": "quantitative", "title": null, "axis": null}, "text": {"field": "label"}}},
                {"data": {"values": [{"t": 30.2, "v": 16.0, "t2": 26.9, "v2": 16.0}, {"t": 35.2, "v": 7.4, "t2": 32.3, "v2": 7.4}]}, "mark": {"type": "rule", "color": "#111", "strokeWidth": 1},
                 "encoding": {"x": {"field": "t", "type": "quantitative", "title": null}, "y": {"field": "v", "type": "quantitative", "title": null, "axis": null}, "x2": {"field": "t2"}, "y2": {"field": "v2"}}},
                {"data": {"values": [{"t": 26.9, "v": 16.0}, {"t": 32.3, "v": 7.4}]}, "mark": {"type": "point", "shape": "triangle-up", "filled": true, "color": "#111", "opacity": 1, "size": 24, "angle": 270},
                 "encoding": {"x": {"field": "t", "type": "quantitative", "title": null}, "y": {"field": "v", "type": "quantitative", "title": null, "axis": null}}}
              ]
            },
            {
              "width": 514, "height": 43,
              "resolve": {"axis": {"y": "independent"}},
              "layer": [
                {"data": {"values": [{"t": 9.7}, {"t": 13}, {"t": 18}]}, "mark": {"type": "rule", "color": "#888", "strokeDash": [1, 2], "strokeWidth": 0.9}, "encoding": {"x": {"field": "t", "type": "quantitative", "title": null}}},
                {"data": {"values": [{"t": 24}, {"t": 48}]}, "mark": {"type": "rule", "color": "#3a3a3a", "strokeDash": [7, 3], "strokeWidth": 1.2}, "encoding": {"x": {"field": "t", "type": "quantitative", "title": null}}},
                {"data": {"values": [{}]}, "mark": {"type": "rule", "color": "#999", "strokeDash": [1, 2], "strokeWidth": 0.9},
                 "encoding": {"y": {"datum": 0, "type": "quantitative", "title": null, "axis": {"orient": "left", "values": [-30,-10,0,10,30], "labels": false, "minExtent": 45, "maxExtent": 45}}}},
                {"data": {"name": "t_vbz"}, "mark": {"type": "line", "color": "#5e2a60", "strokeWidth": 1.2},
                 "encoding": {"x": {"field": "t", "type": "quantitative", "title": null, "scale": {"domain": [0, 72], "nice": false, "zero": false}, "axis": {"values": [0,6,12,18,24,30,36,42,48,54,60,66,72], "tickCount": 40, "labels": false}},
                              "y": {"field": "v", "type": "quantitative", "title": null, "scale": {"domain": [-35, 35], "nice": false}, "axis": {"orient": "right", "values": [-30,-10,0,10,30], "labelFontSize": 9, "maxExtent": 40}}}},
                {"data": {"values": [{"t": 64.6, "v": 15, "label": "VBz (mV/m)"}]}, "mark": {"type": "text", "fontSize": 9},
                 "encoding": {"x": {"field": "t", "type": "quantitative", "title": null}, "y": {"field": "v", "type": "quantitative", "title": null, "axis": null}, "text": {"field": "label"}}}
              ]
            },
            {
              "width": 514, "height": 41,
              "resolve": {"axis": {"y": "independent"}},
              "layer": [
                {"data": {"values": [{"t": 9.7}, {"t": 13}, {"t": 18}]}, "mark": {"type": "rule", "color": "#888", "strokeDash": [1, 2], "strokeWidth": 0.9}, "encoding": {"x": {"field": "t", "type": "quantitative", "title": null}}},
                {"data": {"values": [{"t": 24}, {"t": 48}]}, "mark": {"type": "rule", "color": "#3a3a3a", "strokeDash": [7, 3], "strokeWidth": 1.2}, "encoding": {"x": {"field": "t", "type": "quantitative", "title": null}}},
                {"data": {"values": [{}]}, "mark": {"type": "rule", "color": "#999", "strokeDash": [1, 2], "strokeWidth": 0.9},
                 "encoding": {"y": {"datum": 0, "type": "quantitative", "title": null, "axis": {"orient": "right", "values": [-50,-25,0,25,50], "labels": false, "maxExtent": 40}}}},
                {"data": {"name": "t_bz"}, "mark": {"type": "line", "color": "#1f8a1f", "strokeWidth": 1.2},
                 "encoding": {"x": {"field": "t", "type": "quantitative", "title": null, "scale": {"domain": [0, 72], "nice": false, "zero": false}, "axis": {"values": [0,6,12,18,24,30,36,42,48,54,60,66,72], "tickCount": 40, "labels": false}},
                              "y": {"field": "v", "type": "quantitative", "title": null, "scale": {"domain": [-50, 50], "nice": false}, "axis": {"orient": "left", "values": [-50,0,25,50], "labelExpr": "datum.value == 25 ? 'nT' : datum.label", "minExtent": 45, "maxExtent": 45}}}},
                {"data": {"values": [{"t": 63.3, "v": 22, "label": "Bz"}]}, "mark": {"type": "text", "fontSize": 9},
                 "encoding": {"x": {"field": "t", "type": "quantitative", "title": null}, "y": {"field": "v", "type": "quantitative", "title": null, "axis": null}, "text": {"field": "label"}}}
              ]
            },
            {
              "width": 514, "height": 40,
              "resolve": {"axis": {"y": "independent"}},
              "layer": [
                {"data": {"values": [{"t": 9.7}, {"t": 13}, {"t": 18}]}, "mark": {"type": "rule", "color": "#888", "strokeDash": [1, 2], "strokeWidth": 0.9}, "encoding": {"x": {"field": "t", "type": "quantitative", "title": null}}},
                {"data": {"values": [{"t": 24}, {"t": 48}]}, "mark": {"type": "rule", "color": "#3a3a3a", "strokeDash": [7, 3], "strokeWidth": 1.2}, "encoding": {"x": {"field": "t", "type": "quantitative", "title": null}}},
                {"data": {"values": [{}]}, "mark": {"type": "rule", "color": "#999", "strokeDash": [1, 2], "strokeWidth": 0.9},
                 "encoding": {"y": {"datum": 0, "type": "quantitative", "title": null, "axis": {"orient": "left", "values": [-200,-100,0,100,200], "labels": false, "minExtent": 45, "maxExtent": 45}}}},
                {"data": {"name": "t_eej"}, "mark": {"type": "line", "color": "#c318c8", "strokeWidth": 1.2},
                 "encoding": {"x": {"field": "t", "type": "quantitative", "title": null, "scale": {"domain": [0, 72], "nice": false, "zero": false}, "axis": {"values": [0,6,12,18,24,30,36,42,48,54,60,66,72], "tickCount": 40, "labels": false}},
                              "y": {"field": "v", "type": "quantitative", "title": null, "scale": {"domain": [-220, 210], "nice": false}, "axis": {"orient": "right", "values": [-200,-100,0,100,200], "maxExtent": 40}}}},
                {"data": {"values": [{"t": 62, "v": 105, "label": "EEJ(Dis)"}, {"t": 68, "v": 105, "label": "nT"}]}, "mark": {"type": "text", "fontSize": 9},
                 "encoding": {"x": {"field": "t", "type": "quantitative", "title": null}, "y": {"field": "v", "type": "quantitative", "title": null, "axis": null}, "text": {"field": "label"}}}
              ]
            },
            {
              "width": 514, "height": 62,
              "resolve": {"axis": {"y": "independent"}},
              "layer": [
                {"data": {"values": [{"t": 9.7}, {"t": 13}, {"t": 18}]}, "mark": {"type": "rule", "color": "#888", "strokeDash": [1, 2], "strokeWidth": 0.9}, "encoding": {"x": {"field": "t", "type": "quantitative", "title": null}}},
                {"data": {"values": [{"t": 24}, {"t": 48}]}, "mark": {"type": "rule", "color": "#3a3a3a", "strokeDash": [7, 3], "strokeWidth": 1.2}, "encoding": {"x": {"field": "t", "type": "quantitative", "title": null}}},
                {"data": {"name": "t_abg"}, "mark": {"type": "line", "color": "#1d23c9", "strokeWidth": 1.3},
                 "encoding": {"x": {"field": "t", "type": "quantitative", "title": null, "scale": {"domain": [0, 72], "nice": false, "zero": false}, "axis": {"values": [0,6,12,18,24,30,36,42,48,54,60,66,72], "tickCount": 40, "labelPadding": 3, "labelExpr": "['00','31 March','12','18','00','06','12','1 April','00','06','12','2 April, 2001','LT'][round(datum.value/6)]", "labelFontSize": 11}},
                              "y": {"field": "v", "type": "quantitative", "title": null, "scale": {"domain": [-600, 400], "nice": false}, "axis": {"orient": "left", "values": [-600,-400,-200,0,200,400], "minExtent": 45, "maxExtent": 45}}}},
                {"data": {"name": "t_tir"}, "mark": {"type": "line", "color": "#e8431a", "strokeWidth": 1.4},
                 "encoding": {"x": {"field": "t", "type": "quantitative", "title": null}, "y": {"field": "v", "type": "quantitative", "title": null, "axis": {"orient": "right", "values": [-600,-400,-200,0,200,400], "labels": false, "maxExtent": 40}}}},
                {"data": {"values": [{"t": 2.6, "v": 260, "label": "nT"}]}, "mark": {"type": "text", "fontSize": 9},
                 "encoding": {"x": {"field": "t", "type": "quantitative", "title": null}, "y": {"field": "v", "type": "quantitative", "title": null, "axis": null}, "text": {"field": "label"}}},
                {"data": {"values": [{"t": 65.3, "v": 180, "label": "`H' TIR"}, {"t": 58.6, "v": -520, "label": "`H' ABG"}]}, "mark": {"type": "text", "fontSize": 9, "fontWeight": "bold"},
                 "encoding": {"x": {"field": "t", "type": "quantitative", "title": null}, "y": {"field": "v", "type": "quantitative", "title": null, "axis": null}, "text": {"field": "label"}}},
                {"data": {"values": [{"t": 62.2, "v": 200, "t2": 60.0, "v2": 130}, {"t": 58.3, "v": -420, "t2": 58.3, "v2": -70}]}, "mark": {"type": "rule", "color": "#111", "strokeWidth": 1},
                 "encoding": {"x": {"field": "t", "type": "quantitative", "title": null}, "y": {"field": "v", "type": "quantitative", "title": null, "axis": null}, "x2": {"field": "t2"}, "y2": {"field": "v2"}}},
                {"data": {"values": [{"t": 60.0, "v": 130}]}, "mark": {"type": "point", "shape": "triangle-up", "filled": true, "color": "#111", "opacity": 1, "size": 24, "angle": 254},
                 "encoding": {"x": {"field": "t", "type": "quantitative", "title": null}, "y": {"field": "v", "type": "quantitative", "title": null, "axis": null}}},
                {"data": {"values": [{"t": 58.3, "v": -70}]}, "mark": {"type": "point", "shape": "triangle-up", "filled": true, "color": "#111", "opacity": 1, "size": 24, "angle": 0},
                 "encoding": {"x": {"field": "t", "type": "quantitative", "title": null}, "y": {"field": "v", "type": "quantitative", "title": null, "axis": null}}}
              ]
            }
          ]
        }
      ]
    },
    {
      "columns": 3,
      "spacing": {"row": 0, "column": 5},
      "bounds": "flush",
      "align": "each",
      "resolve": {"scale": {"color": "independent"}, "legend": {"color": "independent"}},
      "concat": [
        {
          "width": 154, "height": 63,
          "resolve": {"axis": {"y": "independent"}},
          "layer": [
            {"data": {"name": "bL_f"}, "mark": {"type": "line", "strokeWidth": 1.3},
             "encoding": {"x": {"field": "t", "type": "quantitative", "title": null, "scale": {"domain": [0, 17.5], "nice": false, "zero": false}, "axis": {"values": [0,3,6,9,12,15], "tickCount": 40, "labels": false}},
                          "y": {"field": "v", "type": "quantitative", "title": null, "scale": {"domain": [3, 18], "nice": false, "zero": false}, "axis": {"orient": "left", "values": [3,6,9,12,15,18], "minExtent": 35, "maxExtent": 35}},
                          "color": {"field": "s", "type": "nominal", "scale": {"domain": ["Delhi", "AHD", "TRD"], "range": ["#27389c", "#33a33a", "#b3552b"]},
                                    "legend": {"orient": "top-left", "title": null, "offset": 2, "padding": 2, "strokeColor": "#333", "fillColor": "white", "symbolType": "stroke", "symbolStrokeWidth": 2, "symbolSize": 420, "labelFontSize": 10.5, "labelFontWeight": "bold", "labelFont": "Liberation Sans", "rowPadding": 0, "labelOffset": 4}},
                          "detail": {"field": "g", "type": "nominal"}}},
            {"data": {"values": [{}]}, "mark": {"type": "rule", "opacity": 0},
             "encoding": {"y": {"datum": 3, "type": "quantitative", "title": null, "axis": {"orient": "right", "values": [3,6,9,12,15,18], "labels": false}}}},
            {"data": {"values": [{"t": 10.8, "v": 6.2, "label": "foF2 (MHz)"}]}, "mark": {"type": "text", "fontSize": 9},
             "encoding": {"x": {"field": "t", "type": "quantitative", "title": null}, "y": {"field": "v", "type": "quantitative", "title": null, "axis": null}, "text": {"field": "label"}}}
          ]
        },
        {
          "width": 192, "height": 63,
          "resolve": {"axis": {"y": "independent"}},
          "layer": [
            {"data": {"values": [{"t": 14.2}, {"t": 24}]}, "mark": {"type": "rule", "color": "#888", "strokeDash": [1, 2], "strokeWidth": 0.9}, "encoding": {"x": {"field": "t", "type": "quantitative", "title": null}}},
            {"data": {"name": "bM_f"}, "mark": {"type": "line", "strokeWidth": 1.3},
             "encoding": {"x": {"field": "t", "type": "quantitative", "title": null, "scale": {"domain": [0, 35.5], "nice": false, "zero": false}, "axis": {"values": [0,3,6,9,12,15,18,21,24,27,30,33], "tickCount": 40, "labels": false}},
                          "y": {"field": "v", "type": "quantitative", "title": null, "scale": {"domain": [3, 18], "nice": false, "zero": false}, "axis": {"orient": "left", "values": [3,6,9,12,15,18], "labels": false}},
                          "color": {"field": "s", "type": "nominal", "scale": {"domain": ["Delhi", "AHD", "TRD"], "range": ["#27389c", "#33a33a", "#b3552b"]}, "legend": null},
                          "detail": {"field": "g", "type": "nominal"}}},
            {"data": {"values": [{}]}, "mark": {"type": "rule", "opacity": 0},
             "encoding": {"y": {"datum": 3, "type": "quantitative", "title": null, "axis": {"orient": "right", "values": [3,6,9,12,15,18], "labels": false}}}}
          ]
        },
        {
          "width": 162, "height": 63,
          "resolve": {"axis": {"y": "independent"}},
          "layer": [
            {"data": {"name": "bR_f"}, "mark": {"type": "line", "strokeWidth": 1.3},
             "encoding": {"x": {"field": "t", "type": "quantitative", "title": null, "scale": {"domain": [6, 24], "nice": false, "zero": false}, "axis": {"values": [6,9,12,15,18,21,24], "tickCount": 40, "labels": false}},
                          "y": {"field": "v", "type": "quantitative", "title": null, "scale": {"domain": [3, 18], "nice": false, "zero": false}, "axis": {"orient": "right", "values": [3,6,9,12,15,18]}},
                          "color": {"field": "s", "type": "nominal", "scale": {"domain": ["Delhi", "AHD", "TRD"], "range": ["#27389c", "#33a33a", "#b3552b"]}, "legend": null},
                          "detail": {"field": "g", "type": "nominal"}}},
            {"data": {"values": [{}]}, "mark": {"type": "rule", "opacity": 0},
             "encoding": {"y": {"datum": 3, "type": "quantitative", "title": null, "axis": {"orient": "left", "values": [3,6,9,12,15,18], "labels": false}}}}
          ]
        },
        {
          "width": 154, "height": 52,
          "resolve": {"axis": {"y": "independent"}},
          "layer": [
            {"data": {"values": [{}]}, "mark": {"type": "rule", "color": "#999", "strokeDash": [1, 2], "strokeWidth": 0.9},
             "encoding": {"y": {"datum": 0, "type": "quantitative", "title": null, "axis": {"orient": "right", "values": [-20,0,20], "labels": false}}}},
            {"data": {"name": "bL_vbz"}, "mark": {"type": "line", "color": "#5e2a60"},
             "encoding": {"x": {"field": "t", "type": "quantitative", "title": null, "scale": {"domain": [0, 17.5], "nice": false, "zero": false}, "axis": {"values": [0,3,6,9,12,15], "tickCount": 40, "labels": false}},
                          "y": {"field": "v", "type": "quantitative", "title": null, "scale": {"domain": [-30, 30], "nice": false}, "axis": {"orient": "left", "values": [-20,0,20], "minExtent": 35, "maxExtent": 35}}}},
            {"data": {"values": [{"t": 10.6, "v": 18, "label": "VBz (mV/m)"}]}, "mark": {"type": "text", "fontSize": 9},
             "encoding": {"x": {"field": "t", "type": "quantitative", "title": null}, "y": {"field": "v", "type": "quantitative", "title": null, "axis": null}, "text": {"field": "label"}}}
          ]
        },
        {
          "width": 192, "height": 52,
          "resolve": {"axis": {"y": "independent"}},
          "layer": [
            {"data": {"values": [{"t": 14.2}, {"t": 24}]}, "mark": {"type": "rule", "color": "#888", "strokeDash": [1, 2], "strokeWidth": 0.9}, "encoding": {"x": {"field": "t", "type": "quantitative", "title": null}}},
            {"data": {"values": [{}]}, "mark": {"type": "rule", "color": "#999", "strokeDash": [1, 2], "strokeWidth": 0.9},
             "encoding": {"y": {"datum": 0, "type": "quantitative", "title": null, "axis": {"orient": "right", "values": [-20,0,20], "labels": false}}}},
            {"data": {"name": "bM_vbz"}, "mark": {"type": "line", "color": "#5e2a60", "strokeWidth": 1.4},
             "encoding": {"x": {"field": "t", "type": "quantitative", "title": null, "scale": {"domain": [0, 35.5], "nice": false, "zero": false}, "axis": {"values": [0,3,6,9,12,15,18,21,24,27,30,33], "tickCount": 40, "labels": false}},
                          "y": {"field": "v", "type": "quantitative", "title": null, "scale": {"domain": [-30, 30], "nice": false}, "axis": {"orient": "left", "values": [-20,0,20], "labels": false}}}}
          ]
        },
        {
          "width": 162, "height": 52,
          "resolve": {"axis": {"y": "independent"}},
          "layer": [
            {"data": {"values": [{}]}, "mark": {"type": "rule", "color": "#999", "strokeDash": [1, 2], "strokeWidth": 0.9},
             "encoding": {"y": {"datum": 0, "type": "quantitative", "title": null, "axis": {"orient": "left", "values": [-20,0,20], "labels": false}}}},
            {"data": {"name": "bR_vbz"}, "mark": {"type": "line", "color": "#5e2a60", "strokeWidth": 1.3},
             "encoding": {"x": {"field": "t", "type": "quantitative", "title": null, "scale": {"domain": [6, 24], "nice": false, "zero": false}, "axis": {"values": [6,9,12,15,18,21,24], "tickCount": 40, "labels": false}},
                          "y": {"field": "v", "type": "quantitative", "title": null, "scale": {"domain": [-30, 30], "nice": false}, "axis": {"orient": "right", "values": [-20,0,20]}}}}
          ]
        },
        {
          "width": 154, "height": 55,
          "resolve": {"axis": {"y": "independent"}},
          "layer": [
            {"data": {"values": [{}]}, "mark": {"type": "rule", "color": "#999", "strokeDash": [1, 2], "strokeWidth": 0.9},
             "encoding": {"y": {"datum": 0, "type": "quantitative", "title": null, "axis": {"orient": "right", "values": [-20,0,20], "labels": false}}}},
            {"data": {"name": "bL_bz"}, "mark": {"type": "line", "color": "#1f8a1f"},
             "encoding": {"x": {"field": "t", "type": "quantitative", "title": null, "scale": {"domain": [0, 17.5], "nice": false, "zero": false}, "axis": {"values": [0,3,6,9,12,15], "tickCount": 40, "labels": false}},
                          "y": {"field": "v", "type": "quantitative", "title": null, "scale": {"domain": [-28, 30], "nice": false}, "axis": {"orient": "left", "values": [-20,0,20], "minExtent": 35, "maxExtent": 35}}}},
            {"data": {"values": [{"t": 12.3, "v": 15, "label": "Bz(nT)"}]}, "mark": {"type": "text", "fontSize": 9},
             "encoding": {"x": {"field": "t", "type": "quantitative", "title": null}, "y": {"field": "v", "type": "quantitative", "title": null, "axis": null}, "text": {"field": "label"}}}
          ]
        },
        {
          "width": 192, "height": 55,
          "resolve": {"axis": {"y": "independent"}},
          "layer": [
            {"data": {"values": [{"t": 14.2}, {"t": 24}]}, "mark": {"type": "rule", "color": "#888", "strokeDash": [1, 2], "strokeWidth": 0.9}, "encoding": {"x": {"field": "t", "type": "quantitative", "title": null}}},
            {"data": {"values": [{}]}, "mark": {"type": "rule", "color": "#999", "strokeDash": [1, 2], "strokeWidth": 0.9},
             "encoding": {"y": {"datum": 0, "type": "quantitative", "title": null, "axis": {"orient": "right", "values": [-20,0,20], "labels": false}}}},
            {"data": {"name": "bM_bz"}, "mark": {"type": "line", "color": "#1f8a1f", "strokeWidth": 1.4},
             "encoding": {"x": {"field": "t", "type": "quantitative", "title": null, "scale": {"domain": [0, 35.5], "nice": false, "zero": false}, "axis": {"values": [0,3,6,9,12,15,18,21,24,27,30,33], "tickCount": 40, "labels": false}},
                          "y": {"field": "v", "type": "quantitative", "title": null, "scale": {"domain": [-28, 30], "nice": false}, "axis": {"orient": "left", "values": [-20,0,20], "labels": false}}}}
          ]
        },
        {
          "width": 162, "height": 55,
          "resolve": {"axis": {"y": "independent"}},
          "layer": [
            {"data": {"values": [{}]}, "mark": {"type": "rule", "color": "#999", "strokeDash": [1, 2], "strokeWidth": 0.9},
             "encoding": {"y": {"datum": 0, "type": "quantitative", "title": null, "axis": {"orient": "left", "values": [-20,0,20], "labels": false}}}},
            {"data": {"name": "bR_bz"}, "mark": {"type": "line", "color": "#1f8a1f", "strokeWidth": 1.3},
             "encoding": {"x": {"field": "t", "type": "quantitative", "title": null, "scale": {"domain": [6, 24], "nice": false, "zero": false}, "axis": {"values": [6,9,12,15,18,21,24], "tickCount": 40, "labels": false}},
                          "y": {"field": "v", "type": "quantitative", "title": null, "scale": {"domain": [-28, 30], "nice": false}, "axis": {"orient": "right", "values": [-20,0,20]}}}}
          ]
        },
        {
          "width": 154, "height": 57,
          "resolve": {"axis": {"y": "independent"}},
          "layer": [
            {"data": {"values": [{}]}, "mark": {"type": "rule", "color": "#999", "strokeDash": [1, 2], "strokeWidth": 0.9},
             "encoding": {"y": {"datum": 0, "type": "quantitative", "title": null, "axis": {"orient": "right", "values": [-150,-100,-50,0,50,100], "labels": false}}}},
            {"data": {"name": "bL_eej"}, "mark": {"type": "line", "color": "#c318c8"},
             "encoding": {"x": {"field": "t", "type": "quantitative", "title": null, "scale": {"domain": [0, 17.5], "nice": false, "zero": false}, "axis": {"values": [0,3,6,9,12,15], "tickCount": 40, "labels": false}},
                          "y": {"field": "v", "type": "quantitative", "title": null, "scale": {"domain": [-150, 100], "nice": false}, "axis": {"orient": "left", "values": [-100,-50,0,50,100], "minExtent": 35, "maxExtent": 35}}}},
            {"data": {"values": [{"t": 1.9, "v": 60, "label": "nT"}, {"t": 11.7, "v": -68, "label": "EEJ"}]}, "mark": {"type": "text", "fontSize": 9},
             "encoding": {"x": {"field": "t", "type": "quantitative", "title": null}, "y": {"field": "v", "type": "quantitative", "title": null, "axis": null}, "text": {"field": "label"}}}
          ]
        },
        {
          "width": 192, "height": 57,
          "resolve": {"axis": {"y": "independent"}},
          "layer": [
            {"data": {"values": [{"t": 14.2}, {"t": 24}]}, "mark": {"type": "rule", "color": "#888", "strokeDash": [1, 2], "strokeWidth": 0.9}, "encoding": {"x": {"field": "t", "type": "quantitative", "title": null}}},
            {"data": {"values": [{}]}, "mark": {"type": "rule", "color": "#999", "strokeDash": [1, 2], "strokeWidth": 0.9},
             "encoding": {"y": {"datum": 0, "type": "quantitative", "title": null, "axis": {"orient": "right", "values": [-150,-100,-50,0,50,100], "labels": false}}}},
            {"data": {"name": "bM_eej"}, "mark": {"type": "line", "color": "#c318c8", "strokeWidth": 1.3},
             "encoding": {"x": {"field": "t", "type": "quantitative", "title": null, "scale": {"domain": [0, 35.5], "nice": false, "zero": false}, "axis": {"values": [0,3,6,9,12,15,18,21,24,27,30,33], "tickCount": 40, "labels": false}},
                          "y": {"field": "v", "type": "quantitative", "title": null, "scale": {"domain": [-150, 100], "nice": false}, "axis": {"orient": "left", "values": [-150,-100,-50,0,50,100], "labels": false}}}},
            {"data": {"values": [{"t": 28, "v": -80, "label": "EEJ(Dis)"}]}, "mark": {"type": "text", "fontSize": 9},
             "encoding": {"x": {"field": "t", "type": "quantitative", "title": null}, "y": {"field": "v", "type": "quantitative", "title": null, "axis": null}, "text": {"field": "label"}}}
          ]
        },
        {
          "width": 162, "height": 57,
          "resolve": {"axis": {"y": "independent"}},
          "layer": [
            {"data": {"values": [{}]}, "mark": {"type": "rule", "color": "#999", "strokeDash": [1, 2], "strokeWidth": 0.9},
             "encoding": {"y": {"datum": 0, "type": "quantitative", "title": null, "axis": {"orient": "left", "values": [-150,-100,-50,0,50,100], "labels": false}}}},
            {"data": {"name": "bR_eej"}, "mark": {"type": "line", "color": "#c318c8", "strokeWidth": 1.3},
             "encoding": {"x": {"field": "t", "type": "quantitative", "title": null, "scale": {"domain": [6, 24], "nice": false, "zero": false}, "axis": {"values": [6,9,12,15,18,21,24], "tickCount": 40, "labels": false}},
                          "y": {"field": "v", "type": "quantitative", "title": null, "scale": {"domain": [-150, 100], "nice": false}, "axis": {"orient": "right", "values": [-150,-100,-50,0,100]}}}},
            {"data": {"values": [{"t": 22.0, "v": 52, "label": "nT"}, {"t": 20.6, "v": -68, "label": "EEJ"}]}, "mark": {"type": "text", "fontSize": 9},
             "encoding": {"x": {"field": "t", "type": "quantitative", "title": null}, "y": {"field": "v", "type": "quantitative", "title": null, "axis": null}, "text": {"field": "label"}}}
          ]
        },
        {
          "width": 154, "height": 74,
          "resolve": {"axis": {"y": "independent"}},
          "layer": [
            {"data": {"name": "bL_abg"}, "mark": {"type": "line", "color": "#1d23c9", "strokeWidth": 1.3},
             "encoding": {"x": {"field": "t", "type": "quantitative", "title": null, "scale": {"domain": [0, 17.5], "nice": false, "zero": false}, "axis": {"values": [0,3,6,9,12,15], "tickCount": 40, "labelExpr": "(datum.value < 10 ? '0' : '') + datum.value"}},
                          "y": {"field": "v", "type": "quantitative", "title": null, "scale": {"domain": [-300, 200], "nice": false}, "axis": {"orient": "left", "values": [-300,-200,-100,0,100,200], "minExtent": 35, "maxExtent": 35}}}},
            {"data": {"name": "bL_tir"}, "mark": {"type": "line", "color": "#e8431a", "strokeWidth": 1.4},
             "encoding": {"x": {"field": "t", "type": "quantitative", "title": null}, "y": {"field": "v", "type": "quantitative", "title": null, "axis": {"orient": "right", "values": [-300,-200,-100,0,100,200], "labels": false}}}},
            {"data": {"values": [{"t": 1.9, "v": 55, "label": "nT"}]}, "mark": {"type": "text", "fontSize": 9},
             "encoding": {"x": {"field": "t", "type": "quantitative", "title": null}, "y": {"field": "v", "type": "quantitative", "title": null, "axis": null}, "text": {"field": "label"}}},
            {"data": {"values": [{"t": 4.6, "v": 55, "label": "`H' TIR"}, {"t": 8.0, "v": -85, "label": "`H' ABG"}]}, "mark": {"type": "text", "fontSize": 9, "fontWeight": "bold"},
             "encoding": {"x": {"field": "t", "type": "quantitative", "title": null}, "y": {"field": "v", "type": "quantitative", "title": null, "axis": null}, "text": {"field": "label"}}},
            {"data": {"values": [{"t": 12.3, "v": -195, "label": "11 April"}]}, "mark": {"type": "text", "fontSize": 11, "fontWeight": "bold"},
             "encoding": {"x": {"field": "t", "type": "quantitative", "title": null}, "y": {"field": "v", "type": "quantitative", "title": null, "axis": null}, "text": {"field": "label"}}},
            {"data": {"values": [{"t": 6.6, "v": 55, "t2": 7.6, "v2": 55}, {"t": 8.1, "v": -55, "t2": 8.1, "v2": 18}]}, "mark": {"type": "rule", "color": "#111", "strokeWidth": 1},
             "encoding": {"x": {"field": "t", "type": "quantitative", "title": null}, "y": {"field": "v", "type": "quantitative", "title": null, "axis": null}, "x2": {"field": "t2"}, "y2": {"field": "v2"}}},
            {"data": {"values": [{"t": 7.6, "v": 55}]}, "mark": {"type": "point", "shape": "triangle-up", "filled": true, "color": "#111", "opacity": 1, "size": 20, "angle": 90},
             "encoding": {"x": {"field": "t", "type": "quantitative", "title": null}, "y": {"field": "v", "type": "quantitative", "title": null, "axis": null}}},
            {"data": {"values": [{"t": 8.1, "v": 18}]}, "mark": {"type": "point", "shape": "triangle-up", "filled": true, "color": "#111", "opacity": 1, "size": 20, "angle": 0},
             "encoding": {"x": {"field": "t", "type": "quantitative", "title": null}, "y": {"field": "v", "type": "quantitative", "title": null, "axis": null}}}
          ]
        },
        {
          "width": 192, "height": 74,
          "resolve": {"axis": {"y": "independent"}},
          "layer": [
            {"data": {"values": [{"t": 14.2}, {"t": 24}]}, "mark": {"type": "rule", "color": "#888", "strokeDash": [1, 2], "strokeWidth": 0.9}, "encoding": {"x": {"field": "t", "type": "quantitative", "title": null}}},
            {"data": {"name": "bM_abg"}, "mark": {"type": "line", "color": "#1d23c9", "strokeWidth": 1.3},
             "encoding": {"x": {"field": "t", "type": "quantitative", "title": null, "scale": {"domain": [0, 35.5], "nice": false, "zero": false}, "axis": {"values": [0,3,6,9,12,15,18,21,24,27,30,33], "tickCount": 40, "labelExpr": "['18','','00','','06','','12','','18','','','03 LT'][round(datum.value/3)]"}},
                          "y": {"field": "v", "type": "quantitative", "title": null, "scale": {"domain": [-300, 200], "nice": false}, "axis": {"orient": "left", "values": [-300,-200,-100,0,100,200], "labels": false}}}},
            {"data": {"name": "bM_tir"}, "mark": {"type": "line", "color": "#e8431a", "strokeWidth": 1.4},
             "encoding": {"x": {"field": "t", "type": "quantitative", "title": null}, "y": {"field": "v", "type": "quantitative", "title": null, "axis": {"orient": "right", "values": [-300,-200,-100,0,100,200], "labels": false}}}},
            {"data": {"values": [{"t": 28, "v": -205, "label": "12 April"}]}, "mark": {"type": "text", "fontSize": 11, "fontWeight": "bold"},
             "encoding": {"x": {"field": "t", "type": "quantitative", "title": null}, "y": {"field": "v", "type": "quantitative", "title": null, "axis": null}, "text": {"field": "label"}}}
          ]
        },
        {
          "width": 162, "height": 74,
          "resolve": {"axis": {"y": "independent"}},
          "layer": [
            {"data": {"name": "bR_abg"}, "mark": {"type": "line", "color": "#1d23c9", "strokeWidth": 1.3},
             "encoding": {"x": {"field": "t", "type": "quantitative", "title": null, "scale": {"domain": [6, 24], "nice": false, "zero": false}, "axis": {"values": [6,9,12,15,18,21,24], "tickCount": 40, "labelExpr": "datum.value == 6 ? '' : datum.value == 24 ? 'LT' : (datum.value < 10 ? '0' : '') + datum.value"}},
                          "y": {"field": "v", "type": "quantitative", "title": null, "scale": {"domain": [-300, 200], "nice": false}, "axis": {"orient": "left", "values": [-300,-200,-100,0,100,200], "labels": false}}}},
            {"data": {"name": "bR_tir"}, "mark": {"type": "line", "color": "#e8431a", "strokeWidth": 1.4},
             "encoding": {"x": {"field": "t", "type": "quantitative", "title": null}, "y": {"field": "v", "type": "quantitative", "title": null, "axis": {"orient": "right", "values": [-300,-200,-100,0,100]}}}},
            {"data": {"values": [{"t": 23.2, "v": 78, "label": "nT"}]}, "mark": {"type": "text", "fontSize": 9},
             "encoding": {"x": {"field": "t", "type": "quantitative", "title": null}, "y": {"field": "v", "type": "quantitative", "title": null, "axis": null}, "text": {"field": "label"}}},
            {"data": {"values": [{"t": 15.5, "v": -200, "label": "13 April, 2001"}]}, "mark": {"type": "text", "fontSize": 11, "fontWeight": "bold"},
             "encoding": {"x": {"field": "t", "type": "quantitative", "title": null}, "y": {"field": "v", "type": "quantitative", "title": null, "axis": null}, "text": {"field": "label"}}}
          ]
        }
      ]
    }
  ]
}
